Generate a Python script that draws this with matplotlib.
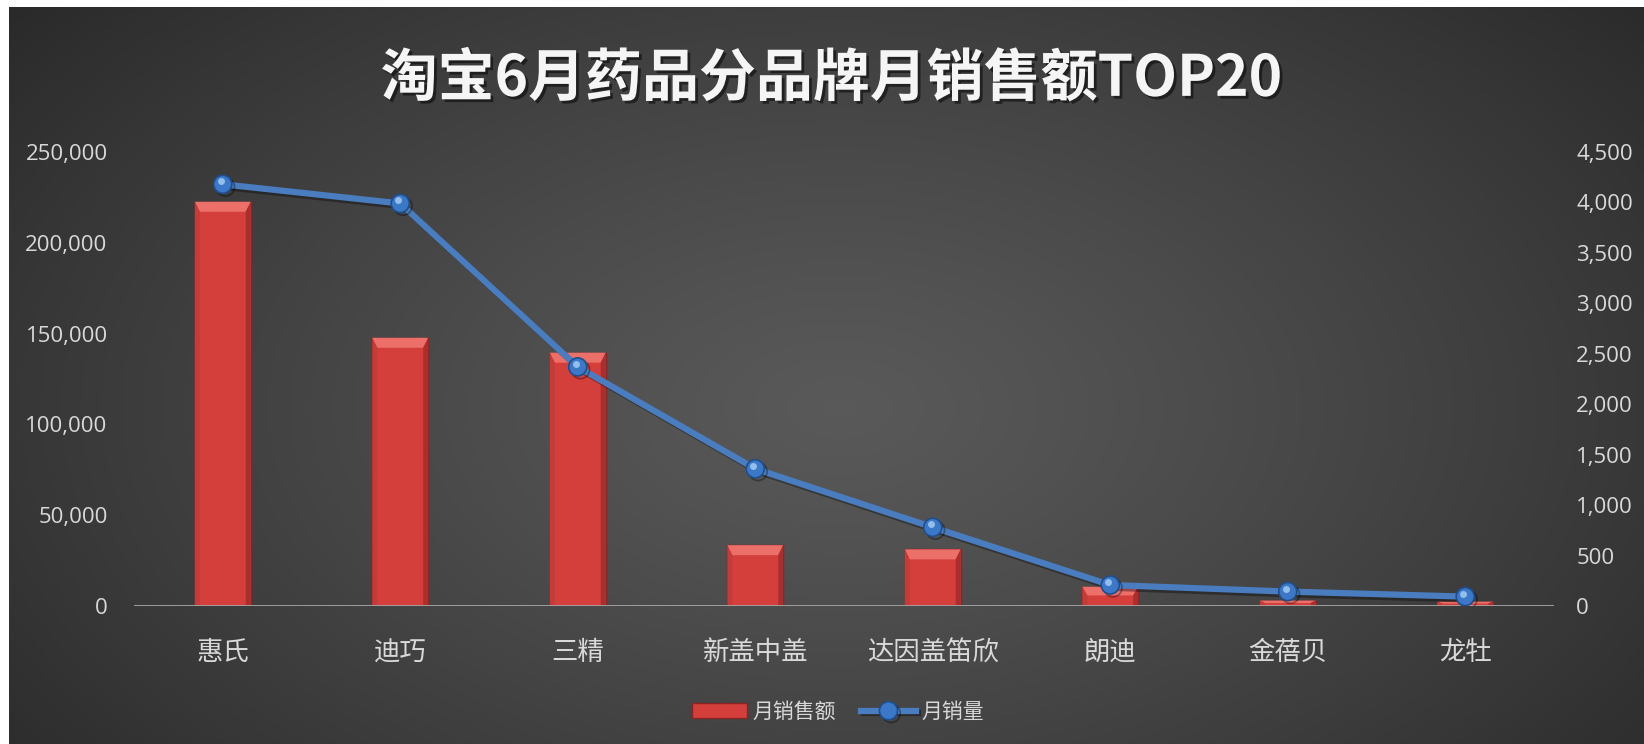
import numpy as np
import matplotlib
matplotlib.use("Agg")
from matplotlib import pyplot as plt
from matplotlib import patheffects as pe
from matplotlib.patches import Polygon
from matplotlib.ticker import FuncFormatter, MultipleLocator
import matplotlib.transforms as mtransforms

plt.rcParams['font.family'] = ['Noto Sans CJK SC', 'DejaVu Sans']

# data
brands = ["惠氏", "迪巧", "三精", "新盖中盖", "达因盖笛欣", "朗迪", "金蓓贝", "龙牡"]
sales_amount = [222600, 147700, 139500, 33500, 31200, 10600, 3000, 2400]   # 月销售额
sales_volume = [4180, 3990, 2370, 1360, 780, 208, 143, 93]                 # 月销量

title = "淘宝6月药品分品牌月销售额TOP20"
label_amount = "月销售额"
label_volume = "月销量"

W, H = 1644, 744
fig = plt.figure(figsize=(W / 100, H / 100), dpi=100)
fig.patch.set_facecolor("white")

# dark radial background (chart area sits inside a thin white margin top/left)
bg_left, bg_top = 9, 7
bg = fig.add_axes([bg_left / W, 0, 1 - bg_left / W, 1 - bg_top / H])
yy, xx = np.mgrid[0:H - bg_top, 0:W - bg_left]
r = np.sqrt(((xx - 830) / 950.0) ** 2 + ((yy - 400) / 560.0) ** 2)
r = np.clip(r / 1.15, 0, 1)
g = 0.35 - 0.19 * r ** 1.2
bg.imshow(np.dstack([g, g, g]), aspect="auto", interpolation="bilinear")
bg.axis("off")

# main axes
ax = fig.add_axes([134 / W, 138 / H, 1420 / W, 454 / H])
ax.patch.set_alpha(0)
ax2 = ax.twinx()
ax2.patch.set_alpha(0)

x = np.arange(len(brands))
bars = ax.bar(x, sales_amount, width=0.315, color="#d43f3c", edgecolor="#8a2424",
              linewidth=1.0, zorder=2, label=label_amount)

# bevel look on each bar
px_y = 250000 / 454.0
px_x = len(brands) / 1420.0
for p in bars:
    x0, w, h = p.get_x(), p.get_width(), p.get_height()
    d = min(10 * px_y, h * 0.45)
    s = 5 * px_x
    top = Polygon([[x0, h], [x0 + w, h], [x0 + w - s, h - d], [x0 + s, h - d]],
                  closed=True, facecolor="#ec6f6a", edgecolor="none", zorder=3)
    lside = Polygon([[x0, 0], [x0, h], [x0 + s, h - d], [x0 + s, 0]],
                    closed=True, facecolor="#c63a37", edgecolor="none", zorder=3)
    rside = Polygon([[x0 + w, 0], [x0 + w, h], [x0 + w - s, h - d], [x0 + w - s, 0]],
                    closed=True, facecolor="#a92e2c", edgecolor="none", zorder=3)
    for poly in (top, lside, rside):
        ax.add_patch(poly)

ax.axhline(0, color="#a6a6a6", linewidth=2, zorder=4)

line, = ax2.plot(x, sales_volume, color="#4a7dbf", linewidth=4.5, marker="o",
                 markersize=13, markerfacecolor="#3b78c8", markeredgecolor="#1f4e8c",
                 markeredgewidth=1.2, zorder=5, label=label_volume,
                 path_effects=[pe.SimpleLineShadow(offset=(2, -2), alpha=0.35), pe.Normal()])
hl = mtransforms.offset_copy(ax2.transData, fig=fig, x=-2, y=3, units="dots")
ax2.plot(x, sales_volume, linestyle="none", marker="o", markersize=5,
         markerfacecolor="#a9d0f5", markeredgecolor="none", alpha=0.8,
         transform=hl, zorder=6)

ax.set_xlim(-0.5, len(brands) - 0.5)
ax.set_ylim(0, 250000)
ax2.set_ylim(0, 4500)
ax.yaxis.set_major_locator(MultipleLocator(50000))
ax2.yaxis.set_major_locator(MultipleLocator(500))
fmt = FuncFormatter(lambda v, pos: f"{int(v):,}")
ax.yaxis.set_major_formatter(fmt)
ax2.yaxis.set_major_formatter(fmt)

for a in (ax, ax2):
    for sp in a.spines.values():
        sp.set_visible(False)
    a.tick_params(length=0, colors="#d9d9d9")

ax.tick_params(axis="y", pad=19, labelsize=16)
ax2.tick_params(axis="y", pad=16, labelsize=16)
for lab in ax.get_yticklabels() + ax2.get_yticklabels():
    lab.set_fontfamily(["Open Sans", "DejaVu Sans"])

ax.set_xticks(x)
ax.set_xticklabels(brands, fontsize=19, color="#d9d9d9")
ax.tick_params(axis="x", pad=24)

fig.text(0.506, 0.894, title, ha="center", va="center", fontsize=41,
         fontweight="bold", color="#f5f5f5",
         path_effects=[pe.withSimplePatchShadow(offset=(2, -2), shadow_rgbFace="black", alpha=0.5)])

leg = fig.legend(handles=[bars, line], labels=[label_amount, label_volume],
                 loc="center", bbox_to_anchor=(0.51, 0.043), ncol=2, frameon=False,
                 fontsize=15, labelcolor="#d9d9d9", handlelength=2.6,
                 columnspacing=1.2, handletextpad=0.3)

fig.savefig("out.png", dpi=100, facecolor=fig.get_facecolor())
